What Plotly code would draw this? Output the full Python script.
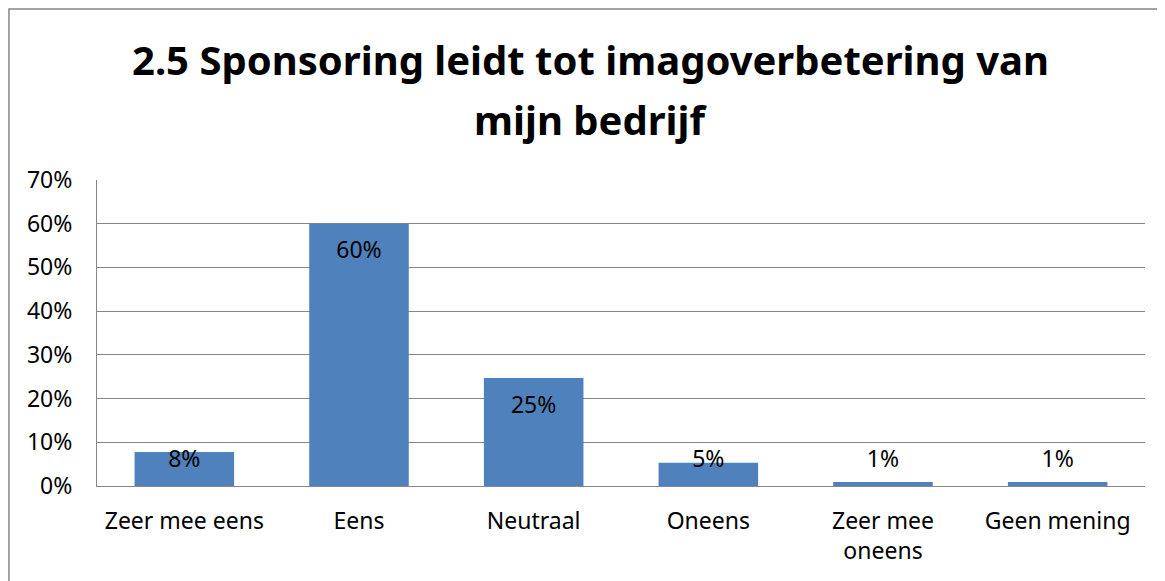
import plotly.graph_objects as go

# data
categories = ["Zeer mee eens", "Eens", "Neutraal", "Oneens", "Zeer mee<br>oneens", "Geen mening"]
values = [0.078, 0.60, 0.247, 0.053, 0.009, 0.009]
labels = ["8%", "60%", "25%", "5%", "1%", "1%"]
y_ticks = [0, 0.1, 0.2, 0.3, 0.4, 0.5, 0.6, 0.7]
title_lines = ["2.5 Sponsoring leidt tot imagoverbetering van", "mijn bedrijf"]

font_family = "Noto Sans, Open Sans, sans-serif"
bar_color = "#4F81BD"
grid_color = "#868686"
fs = 23

# Excel-style "inside end" labels: just under the bar top, never below the baseline
label_y = [max(v - 0.066, 0.057) for v in values]

fig = go.Figure()
fig.add_trace(go.Bar(
    x=categories, y=values,
    marker=dict(color=bar_color, line=dict(width=0)),
    hoverinfo="skip",
    showlegend=False,
))
fig.add_trace(go.Scatter(
    x=categories, y=label_y,
    mode="text",
    text=labels,
    textfont=dict(family=font_family, size=fs, color="black"),
    hoverinfo="skip",
    showlegend=False,
))

# title as two lines, Excel spacing is wider than plotly's default line height
for line, ypos in zip(title_lines, [1.394, 1.199]):
    fig.add_annotation(
        text=f"<b>{line}</b>", xref="paper", yref="paper",
        x=0.471, y=ypos, xanchor="center", yanchor="middle",
        showarrow=False,
        font=dict(family=font_family, size=40, color="black"),
    )

# page body has an 8px margin, so the figure is a bit smaller than the window
fig.update_layout(
    width=1157, height=573,
    margin=dict(l=89, r=20, t=172, b=95, autoexpand=False),
    paper_bgcolor="white",
    plot_bgcolor="white",
    bargap=0.43,
    font=dict(family=font_family, size=fs, color="black"),
    xaxis=dict(
        showgrid=False,
        showline=True, linecolor=grid_color, linewidth=1,
        ticks="", ticklabelstandoff=14,
        tickfont=dict(size=fs),
        automargin=False,
        fixedrange=True,
    ),
    yaxis=dict(
        range=[0, 0.7],
        tickvals=y_ticks,
        tickformat=".0%",
        showgrid=True, gridcolor=grid_color, gridwidth=1,
        showline=True, linecolor=grid_color, linewidth=1,
        zeroline=False,
        ticks="", ticklabelstandoff=19,
        tickfont=dict(size=fs),
        automargin=False,
        fixedrange=True,
    ),
    shapes=[dict(
        type="rect", xref="paper", yref="paper",
        x0=-0.084, x1=1.2, y0=-0.6, y1=1.559,
        line=dict(color=grid_color, width=1.5),
        fillcolor="rgba(0,0,0,0)",
        layer="below",
    )],
)

fig.write_html("out.html")
